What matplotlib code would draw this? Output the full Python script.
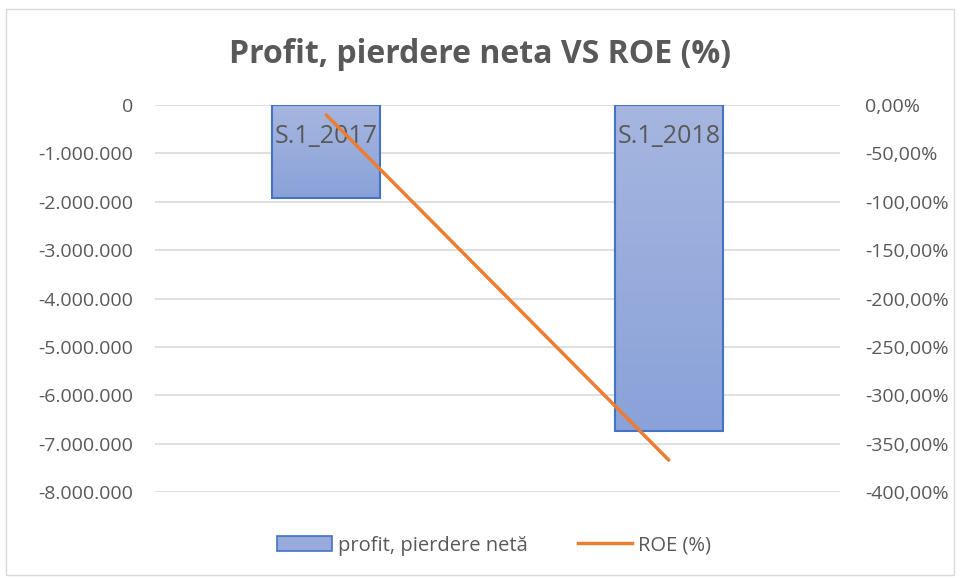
import numpy as np
import matplotlib.pyplot as plt
from matplotlib.patches import Rectangle
from matplotlib.lines import Line2D
from matplotlib.ticker import FuncFormatter

categories = ['S.1_2017', 'S.1_2018']
profit = [-1920000, -6740000]
roe = [-10.3, -367.0]

plt.rcParams['font.family'] = ['Liberation Sans Narrow', 'Open Sans', 'DejaVu Sans']
gray = '#595959'

fig = plt.figure(figsize=(9.6, 5.78), dpi=100)
ax = fig.add_axes([0.1615, 0.1488, 0.7135, 0.6695])
ax2 = ax.twinx()

x = np.arange(len(categories))
bw = 0.315

# gradient fill for bars
grad = np.linspace(0, 1, 256).reshape(-1, 1)
cmap = plt.matplotlib.colors.LinearSegmentedColormap.from_list('g', ['#A6B6E0', '#8AA2D9'])
bars = ax.bar(x, profit, width=bw, color='none', edgecolor='#4472C4', linewidth=1.5, zorder=3)
for b in bars:
    x0, y0 = b.get_x(), b.get_y()
    w, h = b.get_width(), b.get_height()
    im = ax.imshow(grad, cmap=cmap, aspect='auto', extent=[x0, x0 + w, y0 + h, y0], zorder=2)
    im.set_clip_path(b)
for xi, lab in zip(x, categories):
    ax.text(xi, -660000, lab, ha='center', va='center', color=gray, fontsize=18, zorder=4)

ax.set_xlim(-0.5, 1.5)
ax.set_ylim(-8000000, 0)
ax.set_yticks(np.arange(-8000000, 1, 1000000))
ax.yaxis.set_major_formatter(FuncFormatter(lambda v, p: f'{int(v):,}'.replace(',', '.')))
ax.grid(axis='y', color='#D9D9D9', linewidth=1.2, zorder=0)
ax.set_xticks([])

ax2.plot(x, roe, color='#ED7D31', linewidth=2.5, solid_capstyle='round', zorder=5)
ax2.set_ylim(-400, 0)
ax2.set_yticks(np.arange(-400, 1, 50))
ax2.yaxis.set_major_formatter(FuncFormatter(lambda v, p: f'{v:.2f}%'.replace('.', ',')))

for a in (ax, ax2):
    for s in a.spines.values():
        s.set_visible(False)
    a.tick_params(length=0, labelsize=14, labelcolor=gray)
ax.tick_params(axis='y', pad=16)
ax2.tick_params(axis='y', pad=18)

fig.text(0.5, 0.906, 'Profit, pierdere neta VS ROE (%)', ha='center', va='center',
         fontsize=23, fontweight='bold', color=gray)

handles = [Rectangle((0, 0), 1, 1, facecolor='#97AADB', edgecolor='#4472C4', linewidth=1.2),
           Line2D([0], [0], color='#ED7D31', linewidth=2.5)]
fig.legend(handles, ['profit, pierdere netă', 'ROE (%)'], loc='center', bbox_to_anchor=(0.515, 0.056),
           ncol=2, frameon=False, fontsize=14.5, labelcolor=gray, columnspacing=2.5,
           handlelength=2.7, handleheight=0.8, handletextpad=0.3)

fig.patches.append(Rectangle((0.006, 0.005), 0.988, 0.98, transform=fig.transFigure,
                             fill=False, edgecolor='#D9D9D9', linewidth=1))

fig.savefig('out.png', dpi=100)
